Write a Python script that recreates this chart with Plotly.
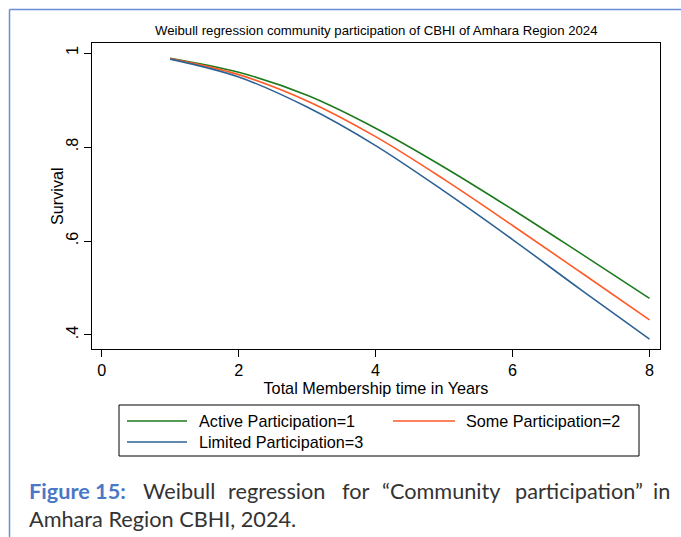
import plotly.graph_objects as go

# ---- data ----
years = [1, 2, 3, 4, 5, 6, 7, 8]
active = [0.989, 0.959, 0.910, 0.840, 0.757, 0.667, 0.573, 0.478]
some = [0.988, 0.954, 0.898, 0.822, 0.731, 0.633, 0.533, 0.432]
limited = [0.987, 0.949, 0.885, 0.803, 0.706, 0.603, 0.496, 0.391]
series_names = ["Active Participation=1", "Some Participation=2", "Limited Participation=3"]
x_ticks = [0, 2, 4, 6, 8]
y_ticks = [0.4, 0.6, 0.8, 1.0]
y_tick_labels = [".4", ".6", ".8", "1"]

# ---- styling ----
W, H = 681, 537
L, R, T, B = 92, 21, 43, 188
PW, PH = W - L - R, H - T - B
colors = ["#1c7a1c", "#ff5a26", "#2e6294"]
AX_FONT = "Liberation Sans, Arial, sans-serif"
CAP_FONT = "Lato, sans-serif"
TXT = 16.2


def px(x):
    return (x - L) / PW


def py(y):
    return (H - B - y) / PH


fig = go.Figure()
for name, vals, c in zip(series_names, [active, some, limited], colors):
    fig.add_trace(go.Scatter(x=years, y=vals, mode="lines", name=name,
                             line=dict(color=c, width=1.6, shape="spline"),
                             showlegend=False))

fig.update_layout(
    width=W, height=H,
    margin=dict(l=L, r=R, t=T, b=B),
    paper_bgcolor="white", plot_bgcolor="white",
    font=dict(family=AX_FONT, color="black"),
    xaxis=dict(range=[-0.142, 8.153], tickvals=x_ticks, ticks="outside", ticklen=7,
               tickcolor="black", showgrid=False, zeroline=False, showline=True,
               linecolor="black", linewidth=1, mirror=True,
               tickfont=dict(size=TXT, family=AX_FONT),
               title=dict(text="Total Membership time in Years", standoff=0,
                          font=dict(size=TXT, family=AX_FONT))),
    yaxis=dict(range=[0.3702, 1.0213], tickvals=y_ticks, ticktext=y_tick_labels,
               ticks="outside", ticklen=7, tickcolor="black", tickangle=-90,
               showgrid=False, zeroline=False, showline=True, linecolor="black",
               linewidth=1, mirror=True, tickfont=dict(size=TXT, family=AX_FONT)),
)

annotations = []
shapes = []

# chart title
annotations.append(dict(text="Weibull regression community participation of CBHI of Amhara Region 2024",
                        xref="paper", yref="paper", x=0.5, y=py(31), xanchor="center",
                        yanchor="middle", showarrow=False,
                        font=dict(size=13.2, family=AX_FONT, color="black")))

# y axis title
annotations.append(dict(text="Survival", xref="paper", yref="paper", x=px(57), y=py(196),
                        xanchor="center", yanchor="middle", textangle=-90, showarrow=False,
                        font=dict(size=TXT, family=AX_FONT, color="black")))

# page frame (blue lines, top and left)
shapes.append(dict(type="line", xref="paper", yref="paper", x0=px(9.5), x1=px(681),
                   y0=py(9.5), y1=py(9.5), line=dict(color="#6b8dd6", width=1.5)))
shapes.append(dict(type="line", xref="paper", yref="paper", x0=px(9.5), x1=px(9.5),
                   y0=py(9.5), y1=py(537), line=dict(color="#6b8dd6", width=1.5)))

# legend box
shapes.append(dict(type="rect", xref="paper", yref="paper", x0=px(119), x1=px(639),
                   y0=py(405), y1=py(456), line=dict(color="black", width=1),
                   fillcolor="white"))
leg_items = [
    (series_names[0], colors[0], 127, 187, 197, 421),
    (series_names[1], colors[1], 393, 455, 464, 421),
    (series_names[2], colors[2], 127, 187, 197, 442),
]
for name, c, lx0, lx1, tx, ty in leg_items:
    shapes.append(dict(type="line", xref="paper", yref="paper", x0=px(lx0), x1=px(lx1),
                       y0=py(ty), y1=py(ty), line=dict(color=c, width=1.6)))
    annotations.append(dict(text=name, xref="paper", yref="paper", x=px(tx), y=py(ty),
                            xanchor="left", yanchor="middle", showarrow=False,
                            font=dict(size=TXT, family=AX_FONT, color="black")))

# figure caption (justified first line)
cap_color = "#333333"
cap_blue = "#4a78c6"
CAP_SIZE = 21.7
annotations.append(dict(text="<b>Figure 15:</b>", xref="paper", yref="paper", x=px(27),
                        y=py(491), xanchor="left", yanchor="middle", showarrow=False,
                        font=dict(size=CAP_SIZE, family=CAP_FONT, color=cap_blue)))
words = [("Weibull", 141, "left"), ("regression", 226, "left"), ("for", 339.5, "left"),
         ("\u201cCommunity", 379.5, "left"), ("participation\u201d", 513, "left"),
         ("in", 672, "right")]
for w, wx, anc in words:
    annotations.append(dict(text=w, xref="paper", yref="paper", x=px(wx), y=py(491),
                            xanchor=anc, yanchor="middle", showarrow=False,
                            font=dict(size=CAP_SIZE, family=CAP_FONT, color=cap_color)))
annotations.append(dict(text="Amhara Region CBHI, 2024.", xref="paper", yref="paper",
                        x=px(27), y=py(519), xanchor="left", yanchor="middle",
                        showarrow=False,
                        font=dict(size=CAP_SIZE, family=CAP_FONT, color=cap_color)))

fig.update_layout(annotations=annotations, shapes=shapes)
fig.write_html("out.html")
